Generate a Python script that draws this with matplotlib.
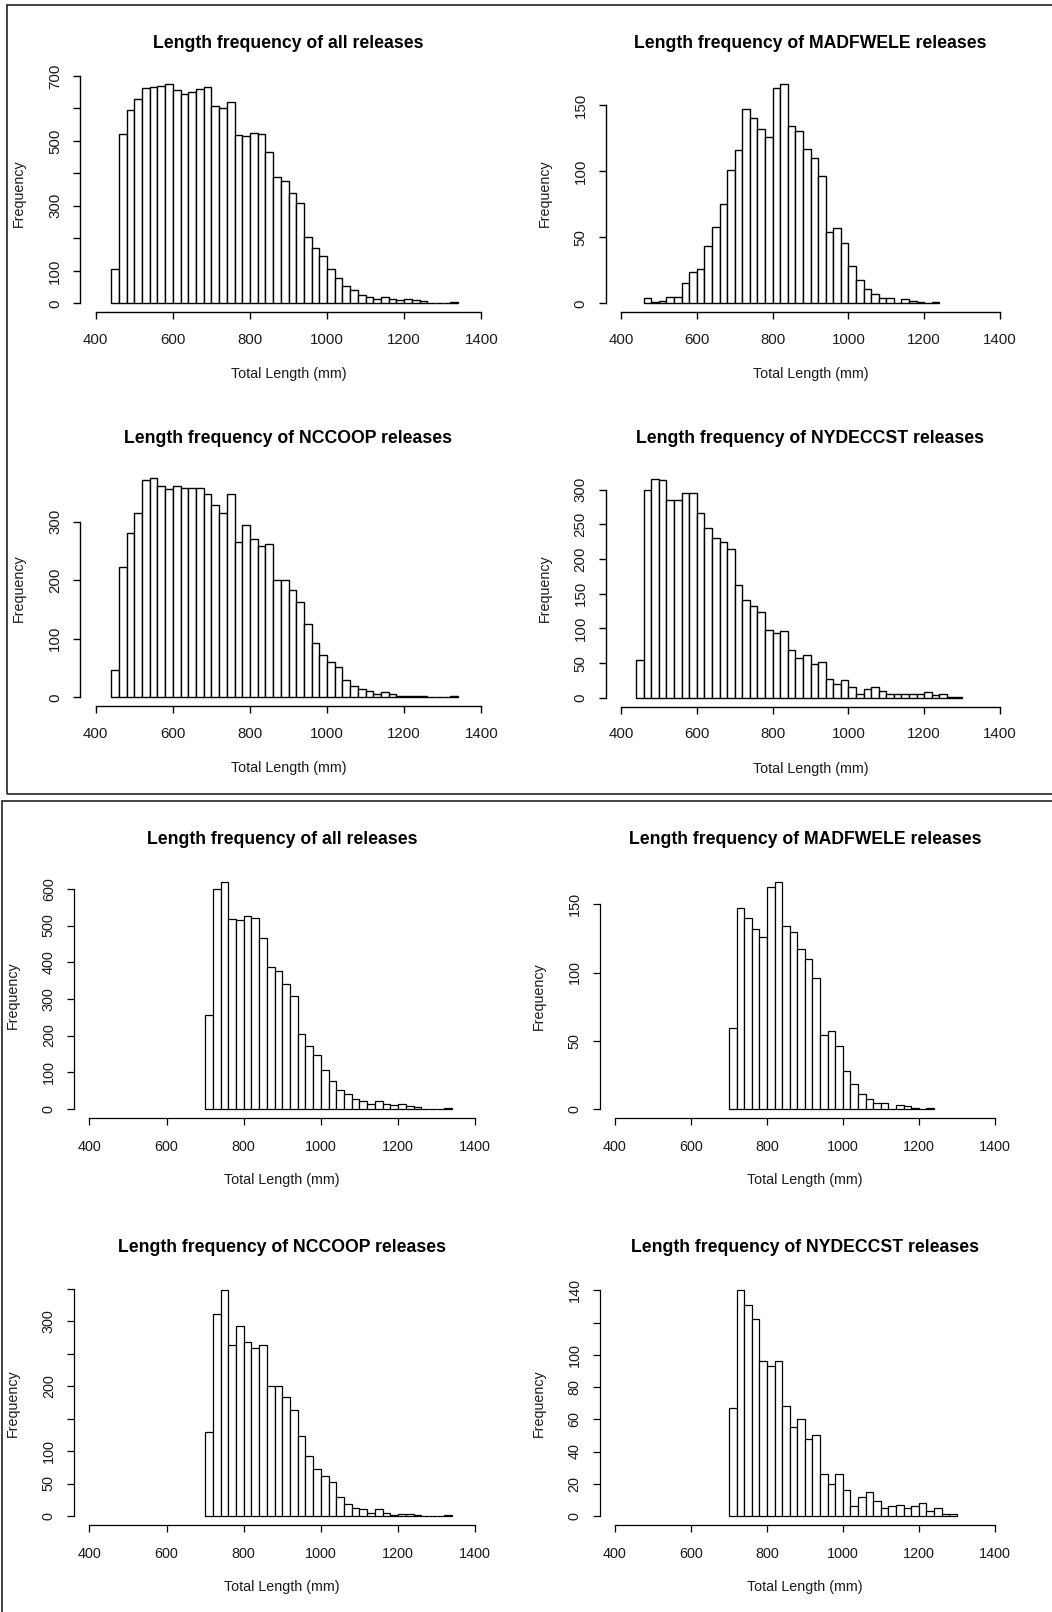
import matplotlib
matplotlib.use("Agg")
import matplotlib.pyplot as plt
import numpy as np
from matplotlib.patches import Rectangle

plt.rcParams['font.family'] = ['Liberation Sans', 'DejaVu Sans']

W, H = 1052, 1612
BIN = 20
XLABEL = "Total Length (mm)"
YLABEL = "Frequency"
XTICKS = [400, 600, 800, 1000, 1200, 1400]

# ---------------- data: upper block (all lengths) ----------------
all_top_start = 440
all_top_counts = [105, 522, 596, 629, 662, 665, 670, 675, 656, 645, 649, 659, 665,
                  606, 600, 618, 519, 515, 525, 521, 467, 388, 376, 340, 309, 205,
                  171, 146, 107, 77, 52, 40, 27, 21, 13, 21, 13, 10, 13, 9, 6,
                  0, 0, 0, 3]
mad_top_start = 460
mad_top_counts = [4, 1, 2, 5, 5, 15, 24, 26, 43, 58, 75, 101, 116, 147, 140, 132,
                  126, 163, 166, 134, 130, 117, 110, 96, 54, 57, 46, 28, 18, 11, 7,
                  4, 4, 0, 3, 2, 1, 0, 1]
nc_top_start = 440
nc_top_counts = [46, 222, 281, 314, 372, 374, 361, 355, 361, 357, 358, 358, 348,
                 328, 314, 348, 266, 294, 270, 258, 262, 201, 200, 184, 163, 125,
                 93, 73, 60, 52, 29, 19, 15, 11, 6, 9, 6, 2, 3, 3, 2, 0, 0, 0, 2]
ny_top_start = 440
ny_top_counts = [54, 300, 316, 314, 285, 285, 296, 296, 267, 245, 230, 225, 214,
                 163, 141, 132, 123, 98, 93, 96, 69, 57, 61, 49, 51, 27, 20, 26,
                 16, 6, 12, 16, 10, 5, 6, 6, 5, 6, 8, 4, 5, 1, 1]

# ---------------- data: lower block (lengths >= 700) ----------------
all_bot_start = 700
all_bot_counts = [255, 600, 618, 519, 515, 525, 521, 467, 388, 376, 340, 309, 205,
                  171, 146, 107, 77, 52, 40, 27, 21, 13, 21, 13, 10, 13, 9, 6,
                  0, 0, 0, 3]
mad_bot_start = 700
mad_bot_counts = [59, 147, 140, 132, 126, 163, 166, 134, 130, 117, 110, 96, 54, 57,
                  46, 28, 18, 11, 7, 4, 4, 0, 3, 2, 1, 0, 1]
nc_bot_start = 700
nc_bot_counts = [130, 312, 348, 264, 293, 269, 259, 263, 201, 200, 183, 164, 124,
                 93, 73, 61, 52, 29, 18, 13, 10, 5, 10, 5, 2, 3, 3, 2, 0, 0, 0, 2]
ny_bot_start = 700
ny_bot_counts = [67, 140, 131, 122, 96, 93, 96, 68, 55, 60, 48, 50, 26, 20, 26, 16,
                 6, 12, 15, 9, 5, 6, 7, 5, 6, 8, 3, 5, 1, 1]

titles = ["Length frequency of all releases",
          "Length frequency of MADFWELE releases",
          "Length frequency of NCCOOP releases",
          "Length frequency of NYDECCST releases"]

# y ticks and the labels R kept (others dropped for overlap)
yt_all_top = [0, 100, 200, 300, 400, 500, 600, 700]
yl_all_top = ["0", "100", "", "300", "", "500", "", "700"]
yt_mad = [0, 50, 100, 150]
yl_mad = ["0", "50", "100", "150"]
yt_nc_top = [0, 100, 200, 300]
yl_nc_top = ["0", "100", "200", "300"]
yt_ny_top = [0, 50, 100, 150, 200, 250, 300]
yl_ny_top = ["0", "50", "100", "150", "200", "250", "300"]
yt_all_bot = [0, 100, 200, 300, 400, 500, 600]
yl_all_bot = ["0", "100", "200", "300", "400", "500", "600"]
yt_nc_bot = [0, 50, 100, 150, 200, 250, 300, 350]
yl_nc_bot = ["0", "50", "100", "", "200", "", "300", ""]
yt_ny_bot = [0, 20, 40, 60, 80, 100, 120, 140]
yl_ny_bot = ["0", "20", "40", "60", "80", "100", "", "140"]

fig = plt.figure(figsize=(W / 100, H / 100), dpi=100)
fig.patch.set_facecolor("white")


def px_rect(l, t, r, b):
    return [l / W, 1 - b / H, (r - l) / W, (b - t) / H]


def panel(rect, title, start, counts, yt, yl, fs_tick, fs_lab, fs_title,
          xpad, title_off, lw):
    ax = fig.add_axes(px_rect(*rect))
    counts = np.asarray(counts, dtype=float)
    edges = start + BIN * np.arange(len(counts))
    ax.bar(edges, counts, width=BIN, align="edge", facecolor="white",
           edgecolor="black", linewidth=lw)
    lo, hi = XTICKS[0], XTICKS[-1]
    ax.set_xlim(lo - 0.04 * (hi - lo), hi + 0.04 * (hi - lo))
    m = counts.max()
    ax.set_ylim(-0.04 * m, 1.04 * m)
    for s in ("top", "right"):
        ax.spines[s].set_visible(False)
    for s in ("left", "bottom"):
        ax.spines[s].set_linewidth(lw)
        ax.spines[s].set_color("black")
    ax.spines["bottom"].set_bounds(lo, hi)
    ax.spines["left"].set_bounds(yt[0], yt[-1])
    ax.set_xticks(XTICKS)
    ax.set_xticklabels([str(v) for v in XTICKS])
    ax.set_yticks(yt)
    ax.set_yticklabels(yl)
    ax.tick_params(direction="out", length=5, width=lw, colors="black",
                   labelcolor="#1a1a1a", labelsize=fs_tick)
    ax.tick_params(axis="x", pad=xpad)
    ax.tick_params(axis="y", pad=8.0)
    for lab in ax.get_yticklabels():
        lab.set_rotation(90)
        lab.set_va("center")
    ax.patch.set_alpha(0)
    # title, axis labels positioned like R's mtext lines
    ax.annotate(title, xy=(0.5, 1.0), xycoords="axes fraction",
                xytext=(0, title_off * 0.72), textcoords="offset points",
                ha="center", va="center", fontsize=fs_title, fontweight="bold",
                color="black")
    ax.annotate(XLABEL, xy=(0.5, 0.0), xycoords="axes fraction",
                xytext=(0, -62 * 0.72), textcoords="offset points",
                ha="center", va="center", fontsize=fs_lab, color="#1a1a1a")
    ax.annotate(YLABEL, xy=(0.0, 0.5), xycoords="axes fraction",
                xytext=(-61 * 0.72, 0), textcoords="offset points",
                ha="center", va="center", fontsize=fs_lab, color="#1a1a1a",
                rotation=90)
    return ax


TOP = dict(fs_tick=10.8, fs_lab=10.3, fs_title=12.7, xpad=10.0, title_off=31.5, lw=1.0)
BOT = dict(fs_tick=10.4, fs_lab=10.3, fs_title=12.7, xpad=11.0, title_off=33.5, lw=0.9)

# upper block panels
panel((80.3, 75.2, 496.7, 312.1), titles[0], all_top_start, all_top_counts,
      yt_all_top, yl_all_top, **TOP)
panel((605.8, 75.1, 1015.2, 312.1), titles[1], mad_top_start, mad_top_counts,
      yt_mad, yl_mad, **TOP)
panel((80.3, 469.6, 496.7, 706.1), titles[2], nc_top_start, nc_top_counts,
      yt_nc_top, yl_nc_top, **TOP)
panel((605.8, 469.9, 1015.2, 706.5), titles[3], ny_top_start, ny_top_counts,
      yt_ny_top, yl_ny_top, **TOP)

# lower block panels
panel((73.9, 873.3, 490.7, 1118.0), titles[0], all_bot_start, all_bot_counts,
      yt_all_bot, yl_all_bot, **BOT)
panel((599.8, 873.4, 1010.0, 1118.0), titles[1], mad_bot_start, mad_bot_counts,
      yt_mad, yl_mad, **BOT)
panel((73.9, 1281.3, 490.7, 1525.0), titles[2], nc_bot_start, nc_bot_counts,
      yt_nc_bot, yl_nc_bot, **BOT)
panel((599.8, 1281.3, 1010.0, 1525.0), titles[3], ny_bot_start, ny_bot_counts,
      yt_ny_bot, yl_ny_bot, **BOT)


# frames around the two screenshot blocks
def frame(l, t, r, b):
    fig.add_artist(Rectangle((l / W, 1 - b / H), (r - l) / W, (b - t) / H,
                             transform=fig.transFigure, fill=False,
                             edgecolor="#222222", linewidth=1.2))


frame(7, 5, 1070, 794.3)
frame(1.7, 800.7, 1070, 1640)

fig.savefig("out.png", dpi=100, facecolor="white")
